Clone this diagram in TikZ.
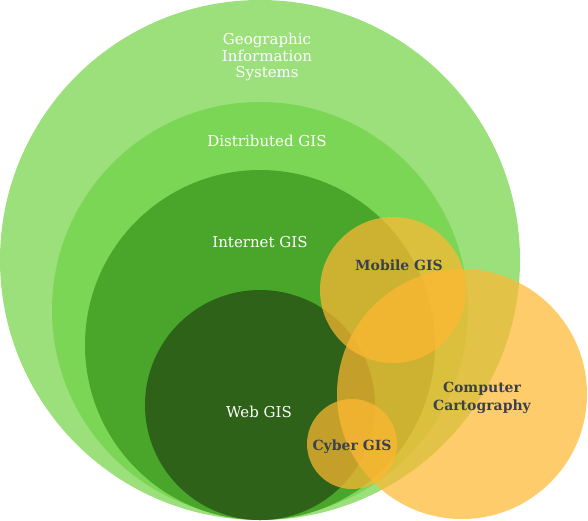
\documentclass[tikz,border=0pt]{standalone}
\usepackage{fontspec}
\setmainfont{DejaVu Serif}
\definecolor{gisgreen}{HTML}{9CE07B}
\definecolor{distgreen}{HTML}{7BD655}
\definecolor{netgreen}{HTML}{4AA62A}
\definecolor{webgreen}{HTML}{2D6218}
\definecolor{cartoorange}{HTML}{FFB833}
\definecolor{slate}{HTML}{3A4050}

\begin{document}
\begin{tikzpicture}[x=1pt, y=-1pt, font=\fontsize{15}{16.5}\selectfont,
  greenlabel/.style={align=center, text=white},
  orangelabel/.style={align=center, text=slate, font=\fontsize{14}{18.5}\selectfont\bfseries},
  orangedisc/.style={fill=cartoorange, fill opacity=0.72}]
  \useasboundingbox (0,0) rectangle (588,520);
  \fill[gisgreen] (260,260) circle[radius=260];
  \fill[distgreen] (260,310) circle[radius=208];
  \fill[netgreen] (260,345) circle[radius=175];
  \fill[webgreen] (260,405) circle[radius=115];
  \fill[orangedisc] (393,290) circle[radius=73];
  \fill[orangedisc] (462,394) circle[radius=125];
  \fill[orangedisc] (352,444) circle[radius=45];

  \node[greenlabel] (gis) at (267,57) {Geographic\\Information\\Systems};
  \node[greenlabel] (dist) at (267,141) {Distributed GIS};
  \node[greenlabel] (net) at (260,242) {Internet GIS};
  \node[greenlabel] (web) at (259,412) {Web GIS};
  \node[orangelabel] (mobile) at (399,265) {Mobile GIS};
  \node[orangelabel] (carto) at (482,398) {Computer\\Cartography};
  \node[orangelabel] (cyber) at (352,447) {Cyber GIS};
\end{tikzpicture}
\end{document}
